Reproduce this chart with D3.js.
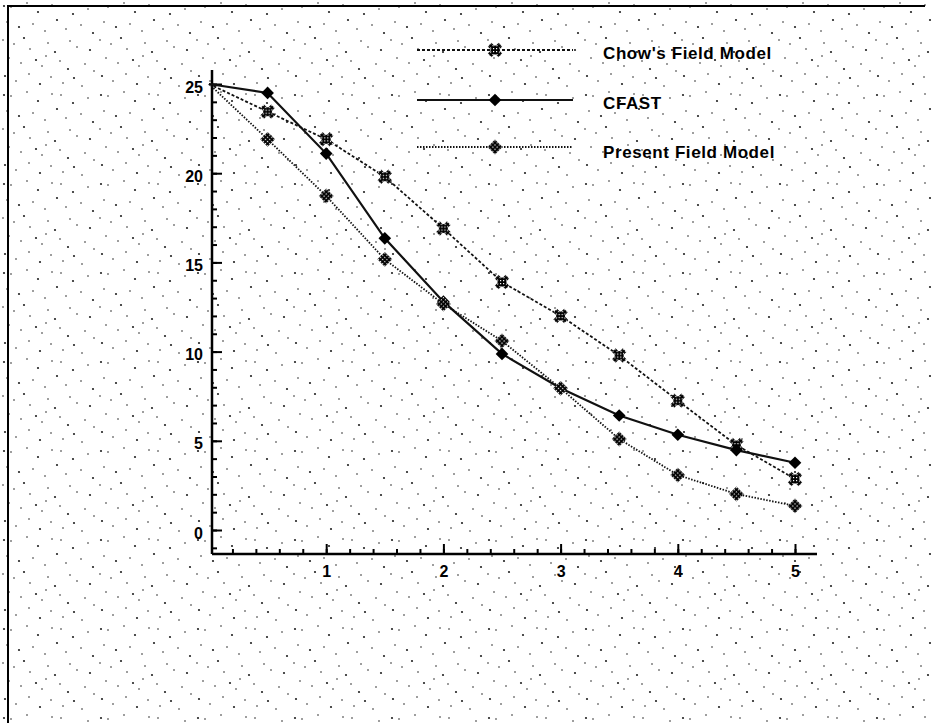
<!DOCTYPE html>
<html>
<head>
<meta charset="utf-8">
<script src="https://cdn.jsdelivr.net/npm/d3@7"></script>
<style>
  body { margin: 0; background: #fff; }
  svg { display: block; }
  .tick-label { font-family: "Liberation Sans", Arial, sans-serif; font-weight: bold; font-size: 16px; fill: #000; }
  .legend-label { font-family: "Liberation Sans", Arial, sans-serif; font-weight: bold; font-size: 17px; fill: #000; letter-spacing: 0.6px; }
</style>
</head>
<body>
<div id="chart"></div>
<script>
// data
const xValues = [0, 0.5, 1, 1.5, 2, 2.5, 3, 3.5, 4, 4.5, 5];
const chowValues = [25, 23.45, 21.9, 19.8, 16.9, 13.9, 12.0, 9.78, 7.25, 4.76, 2.86];
const cfastValues = [25, 24.5, 21.1, 16.35, 12.8, 9.87, 7.95, 6.42, 5.34, 4.48, 3.77];
const presentValues = [25, 21.9, 18.72, 15.17, 12.67, 10.6, 7.94, 5.1, 3.08, 2.02, 1.35];
const seriesNames = ["Chow's Field Model", "CFAST", "Present Field Model"];
const xTickLabels = [1, 2, 3, 4, 5];
const yTickLabels = [0, 5, 10, 15, 20, 25];

const width = 931, height = 723;
const axisBox = { left: 212, right: 817, top: 70, bottom: 554 };

const svg = d3.select('#chart').append('svg')
  .attr('width', width)
  .attr('height', height);

const defs = svg.append('defs');

// scan speckle texture (fixed tile)
const speck = defs.append('pattern')
  .attr('id', 'speck')
  .attr('patternUnits', 'userSpaceOnUse')
  .attr('width', 97).attr('height', 89);
[[4, 6], [11, 7], [27, 3], [38, 12], [52, 5], [61, 6], [73, 14], [88, 9],
 [7, 22], [19, 27], [33, 24], [45, 31], [57, 20], [66, 29], [81, 25], [93, 33],
 [3, 40], [14, 44], [24, 38], [30, 49], [48, 43], [55, 52], [70, 41], [77, 47], [90, 50],
 [9, 58], [21, 63], [36, 60], [42, 66], [60, 61], [68, 69], [85, 64], [94, 71],
 [5, 76], [16, 81], [29, 74], [40, 84], [51, 77], [63, 83], [74, 78], [82, 86], [46, 56]
].forEach((p, i) => {
  speck.append('circle').attr('cx', p[0]).attr('cy', p[1])
    .attr('r', i % 3 === 0 ? 1.1 : 0.8).attr('fill', '#222');
});

// cross-hatched marker fill
const hatch = defs.append('pattern')
  .attr('id', 'hatch')
  .attr('patternUnits', 'userSpaceOnUse')
  .attr('width', 3).attr('height', 3);
hatch.append('rect').attr('width', 3).attr('height', 3).attr('fill', '#000');
hatch.append('rect').attr('x', 1).attr('y', 1).attr('width', 1.2).attr('height', 1.2).attr('fill', '#fff');

svg.append('rect')
  .attr('width', width).attr('height', height)
  .attr('fill', 'url(#speck)');

// page frame (left and top edges only, as in the scan)
svg.append('path')
  .attr('d', `M8,${height} L8,6 L925,6`)
  .attr('fill', 'none')
  .attr('stroke', '#000')
  .attr('stroke-width', 2);

const x = d3.scaleLinear().domain([0, 5]).range([209, 795]);
const y = d3.scaleLinear().domain([0, 25]).range([530, 84]);

const chart = svg.append('g');

// axes lines
chart.append('line')
  .attr('x1', axisBox.left).attr('x2', axisBox.right)
  .attr('y1', axisBox.bottom).attr('y2', axisBox.bottom)
  .attr('stroke', '#000').attr('stroke-width', 2.5);
chart.append('line')
  .attr('x1', axisBox.left).attr('x2', axisBox.left)
  .attr('y1', axisBox.top).attr('y2', axisBox.bottom)
  .attr('stroke', '#000').attr('stroke-width', 2.5);

// x ticks
const xMinor = d3.range(1, 26).map(i => i / 5);
const xMinorAxis = d3.axisBottom(x).tickValues(xMinor).tickSize(-5).tickFormat('');
const xMajorAxis = d3.axisBottom(x).tickValues(xTickLabels).tickSize(-10).tickFormat(d3.format('d'));

const xMinorG = chart.append('g').attr('transform', `translate(0,${axisBox.bottom})`).call(xMinorAxis);
const xMajorG = chart.append('g').attr('transform', `translate(0,${axisBox.bottom})`).call(xMajorAxis);
[xMinorG, xMajorG].forEach(g => {
  g.select('.domain').remove();
  g.selectAll('.tick line').attr('stroke', '#000').attr('stroke-width', 2);
});
xMajorG.selectAll('.tick text')
  .attr('class', 'tick-label')
  .attr('y', 12)
  .attr('dy', '0.71em')
  .attr('font-family', null).attr('font-size', null);

// y ticks
const yMinor = d3.range(-1, 26);
const yMinorAxis = d3.axisLeft(y).tickValues(yMinor).tickSize(-5).tickFormat('');
const yMajorAxis = d3.axisLeft(y).tickValues(yTickLabels).tickSize(-10).tickFormat(d3.format('d'));

const yMinorG = chart.append('g').attr('transform', `translate(${axisBox.left},0)`).call(yMinorAxis);
const yMajorG = chart.append('g').attr('transform', `translate(${axisBox.left},0)`).call(yMajorAxis);
[yMinorG, yMajorG].forEach(g => {
  g.select('.domain').remove();
  g.selectAll('.tick line').attr('stroke', '#000').attr('stroke-width', 2);
});
yMajorG.selectAll('.tick text')
  .attr('class', 'tick-label')
  .attr('x', -9)
  .attr('dy', '0.5em')
  .attr('font-family', null).attr('font-size', null);

// series
const series = [
  { name: seriesNames[0], values: chowValues, dash: '3,2', width: 1.8, marker: 'hatchCircle' },
  { name: seriesNames[1], values: cfastValues, dash: null, width: 2.2, marker: 'diamond' },
  { name: seriesNames[2], values: presentValues, dash: '1.5,1.5', width: 1.8, marker: 'hatchDiamond' }
];

const line = d3.line()
  .x((d, i) => x(xValues[i]))
  .y(d => y(d));

function drawMarker(g, type) {
  if (type === 'diamond') {
    g.append('path')
      .attr('d', d3.symbol(d3.symbolSquare, 80)())
      .attr('transform', 'rotate(45)')
      .attr('fill', '#000');
  } else if (type === 'hatchCircle') {
    g.append('path')
      .attr('d', d3.symbol(d3.symbolCross, 130)())
      .attr('transform', 'rotate(45)')
      .attr('fill', 'url(#hatch)');
    g.append('circle').attr('r', 4.5).attr('fill', 'url(#hatch)');
  } else {
    g.append('path')
      .attr('d', d3.symbol(d3.symbolSquare, 110)())
      .attr('transform', 'rotate(45)')
      .attr('fill', 'url(#hatch)');
  }
}

series.forEach(s => {
  chart.append('path')
    .datum(s.values)
    .attr('fill', 'none')
    .attr('stroke', '#111')
    .attr('stroke-width', s.width)
    .attr('stroke-dasharray', s.dash)
    .attr('d', line);
});

series.forEach(s => {
  s.values.forEach((v, i) => {
    if (i === 0) return;
    const g = chart.append('g').attr('transform', `translate(${x(xValues[i])},${y(v)})`);
    drawMarker(g, s.marker);
  });
});

// legend
const legend = svg.append('g');
const legendY = [50, 100, 147];
series.forEach((s, i) => {
  const row = legend.append('g').attr('transform', `translate(0,${legendY[i]})`);
  row.append('line')
    .attr('x1', 417).attr('x2', 573)
    .attr('stroke', '#111')
    .attr('stroke-width', s.width)
    .attr('stroke-dasharray', s.dash);
  drawMarker(row.append('g').attr('transform', 'translate(495,0)'), s.marker);
  row.append('text')
    .attr('class', 'legend-label')
    .attr('x', 603)
    .attr('y', i === 2 ? 5 : 3)
    .attr('dy', '0.35em')
    .text(s.name);
});
</script>
</body>
</html>
